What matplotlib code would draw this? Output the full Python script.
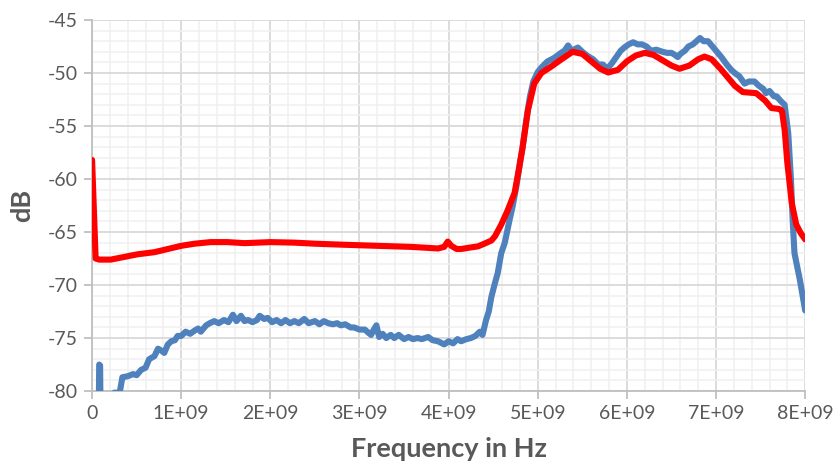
import matplotlib
matplotlib.use("Agg")
import matplotlib.pyplot as plt
from matplotlib.ticker import MultipleLocator, FuncFormatter

# Red trace (frequency in units of 1E+09 Hz, level in dB)
red_f = [0, 0.04, 0.08, 0.21, 0.33, 0.51, 0.70, 0.85, 1.0, 1.15, 1.33, 1.52, 1.71, 2.0, 2.27,
         2.5, 2.83, 3.2, 3.58, 3.88, 3.95, 3.99, 4.03, 4.09, 4.14, 4.25, 4.33, 4.40, 4.48, 4.52,
         4.59, 4.66, 4.74, 4.79, 4.83, 4.89, 4.96, 5.04, 5.15, 5.25, 5.39, 5.5, 5.6, 5.7, 5.79,
         5.9, 6.0, 6.1, 6.2, 6.3, 6.4, 6.5, 6.59, 6.7, 6.8, 6.87, 6.95, 7.05, 7.15, 7.21, 7.3,
         7.45, 7.55, 7.62, 7.71, 7.74, 7.77, 7.80, 7.85, 7.90, 7.95, 8.0]
red_db = [-58.2, -67.5, -67.6, -67.6, -67.4, -67.1, -66.9, -66.6, -66.3, -66.1, -65.95, -65.95,
          -66.05, -65.95, -66.0, -66.1, -66.2, -66.3, -66.4, -66.55, -66.4, -65.9, -66.3, -66.6,
          -66.6, -66.45, -66.35, -66.1, -65.8, -65.4, -64.3, -63.0, -61.3, -59.0, -57.0, -53.5,
          -51.0, -50.0, -49.4, -48.8, -48.0, -48.2, -48.9, -49.6, -49.95, -49.7, -48.9, -48.35,
          -48.1, -48.3, -48.8, -49.3, -49.6, -49.3, -48.7, -48.45, -48.7, -49.6, -50.6, -51.2,
          -51.8, -51.9, -52.6, -53.3, -53.4, -53.6, -55.4, -58.5, -62.3, -64.3, -65.1, -65.7]

# Blue trace
blue_f = [0.0, 0.075, 0.08, 0.09, 0.095, 0.2, 0.25, 0.31, 0.34, 0.4, 0.46, 0.5, 0.55, 0.6, 0.64,
          0.7, 0.74, 0.78, 0.81, 0.85, 0.89, 0.93, 0.96, 1.0, 1.05, 1.1, 1.15, 1.19, 1.22, 1.28,
          1.32, 1.37, 1.42, 1.48, 1.53, 1.58, 1.62, 1.67, 1.71, 1.75, 1.8, 1.85, 1.88, 1.93,
          1.97, 2.02, 2.07, 2.12, 2.17, 2.22, 2.27, 2.32, 2.38, 2.43, 2.5, 2.55, 2.6, 2.65, 2.7,
          2.75, 2.79, 2.84, 2.9, 2.94, 3.0, 3.06, 3.1, 3.13, 3.16, 3.19, 3.22, 3.26, 3.3, 3.35,
          3.39, 3.44, 3.5, 3.55, 3.6, 3.65, 3.7, 3.77, 3.82, 3.88, 3.95, 4.0, 4.05, 4.1, 4.14,
          4.2, 4.25, 4.3, 4.35, 4.38, 4.42, 4.45, 4.48, 4.52, 4.55, 4.59, 4.63, 4.68, 4.72, 4.76,
          4.8, 4.83, 4.87, 4.91, 4.95, 5.0, 5.05, 5.11, 5.18, 5.26, 5.3, 5.34, 5.38, 5.45, 5.5,
          5.56, 5.62, 5.68, 5.73, 5.78, 5.83, 5.88, 5.93, 5.97, 6.02, 6.07, 6.12, 6.17, 6.22,
          6.27, 6.33, 6.4, 6.45, 6.5, 6.54, 6.57, 6.6, 6.65, 6.69, 6.74, 6.78, 6.82, 6.86, 6.91,
          6.95, 7.0, 7.06, 7.12, 7.17, 7.21, 7.26, 7.32, 7.37, 7.43, 7.48, 7.53, 7.56, 7.6, 7.65,
          7.68, 7.72, 7.77, 7.81, 7.84, 7.86, 7.88, 7.94, 8.0]
blue_db = [-82, -82, -77.5, -77.6, -82, -80.6, -80.15, -80.15, -78.7, -78.6, -78.4, -78.5, -78.0,
           -77.8, -77.0, -76.7, -76.0, -76.2, -76.4, -75.6, -75.3, -75.2, -74.8, -74.8, -74.4,
           -74.6, -74.3, -74.1, -74.4, -73.8, -73.6, -73.4, -73.6, -73.3, -73.5, -72.8, -73.4,
           -72.9, -73.4, -73.3, -73.5, -73.3, -72.9, -73.2, -73.1, -73.5, -73.3, -73.6, -73.3,
           -73.6, -73.4, -73.6, -73.2, -73.6, -73.4, -73.7, -73.4, -73.6, -73.7, -73.6, -73.8,
           -73.7, -74.0, -74.0, -74.2, -74.2, -74.5, -74.7, -74.2, -73.8, -74.9, -74.6, -75.0,
           -74.7, -75.0, -74.7, -75.1, -74.9, -75.1, -75.0, -75.1, -74.9, -75.2, -75.3, -75.6,
           -75.3, -75.5, -75.1, -75.3, -75.1, -75.0, -74.8, -74.4, -74.7, -73.3, -72.5, -71.1,
           -69.8, -68.9, -67.0, -66.0, -64.0, -62.5, -60.7, -58.5, -57.0, -54.5, -52.3, -50.8,
           -49.9, -49.4, -48.9, -48.6, -48.1, -47.9, -47.4, -47.9, -47.6, -48.0, -48.4, -48.7,
           -49.2, -49.2, -49.6, -49.1, -48.5, -47.9, -47.6, -47.3, -47.1, -47.3, -47.3, -47.5,
           -47.9, -47.8, -48.0, -48.1, -48.1, -48.3, -48.5, -48.2, -47.9, -47.5, -47.3, -47.0,
           -46.7, -47.0, -47.0, -47.4, -47.9, -48.5, -49.2, -49.7, -50.0, -50.3, -51.0, -50.8,
           -50.8, -51.2, -51.5, -51.9, -51.7, -52.2, -52.2, -52.6, -53.0, -55.7, -60.0, -64.0,
           -67.0, -69.5, -72.4]

x_tick_labels = ["0", "1E+09", "2E+09", "3E+09", "4E+09", "5E+09", "6E+09", "7E+09", "8E+09"]

plt.rcParams['font.family'] = ['Lato', 'DejaVu Sans']
txt = '#595959'

fig = plt.figure(figsize=(8.37, 4.65), dpi=100)
ax = fig.add_axes([0.110, 0.159, 0.852, 0.798])

ax.plot([f * 1e9 for f in blue_f], blue_db, color='#4F81BD', lw=4.4,
        solid_joinstyle='round', solid_capstyle='round', zorder=3)
ax.plot([f * 1e9 for f in red_f], red_db, color='#FF0000', lw=4.4,
        solid_joinstyle='round', solid_capstyle='round', zorder=4)

ax.set_xlim(0, 8e9)
ax.set_ylim(-80, -45)
ax.xaxis.set_major_locator(MultipleLocator(1e9))
ax.xaxis.set_minor_locator(MultipleLocator(0.2e9))
ax.yaxis.set_major_locator(MultipleLocator(5))
ax.yaxis.set_minor_locator(MultipleLocator(1))
ax.xaxis.set_major_formatter(FuncFormatter(lambda v, p: x_tick_labels[int(round(v / 1e9))]
                                           if 0 <= int(round(v / 1e9)) < len(x_tick_labels) else ""))
ax.yaxis.set_major_formatter(FuncFormatter(lambda v, p: f"{int(v)}"))

ax.grid(which='major', color='#D9D9D9', lw=1.3)
ax.grid(which='minor', color='#F0F0F0', lw=1.1)
ax.set_axisbelow(True)

for s in ['top', 'right']:
    ax.spines[s].set_visible(False)
for s in ['left', 'bottom']:
    ax.spines[s].set_color('#BFBFBF')
    ax.spines[s].set_linewidth(1.3)

ax.tick_params(which='major', length=6, width=1.3, color='#BFBFBF', labelsize=14,
               labelcolor=txt, pad=4)
ax.tick_params(which='minor', length=0)

ax.set_xlabel("Frequency in Hz", fontsize=19.5, fontweight='bold', color=txt, labelpad=11)
ax.set_ylabel("dB", fontsize=19.5, fontweight='bold', color=txt, labelpad=10)

fig.savefig("out.png", dpi=100)
